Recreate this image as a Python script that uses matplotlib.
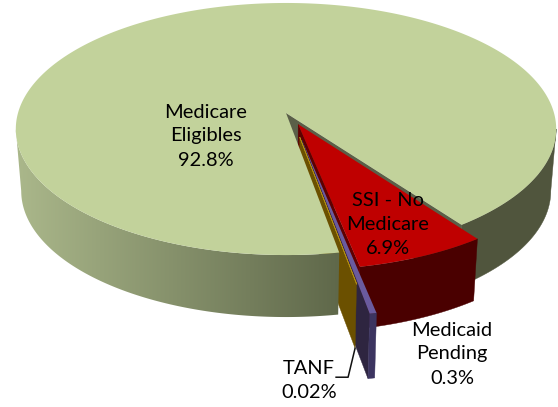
import numpy as np
import matplotlib
matplotlib.use("Agg")
import matplotlib.pyplot as plt
from matplotlib.patches import Polygon
from matplotlib.colors import LinearSegmentedColormap

# data
names = ["Medicare\nEligibles", "SSI - No\nMedicare", "Medicaid\nPending", "TANF"]
values = [92.8, 6.9, 0.3, 0.02]

# look of the fake 3d pie
cx, cy = 286, 113
rx, ry = 268, 124
persp = 0.127
shrink = 0.98
start = 169.99  # degrees clockwise from the back, green slice starts here

# slice offset on the disc (u, t) and radius
offsets = [(0, 0), (0.045, 0.09), (0.058, 0.212), (0.05, 0.19)]
radii = [1.0, 1.0, 1.148, 1.0]
depths = [62, 62, 65, 64]

# label centres in pixels
label_pos = [(206, 136), (388, 224), (452, 354), (309, 381)]

top_cols = ["#c2d29b", "#bf0000", "#6a5b9e", "#b08c10"]

# where the rim turns away from the viewer
turn = np.degrees(np.arccos(persp))


def project(theta, r, off):
    u = off[0] + r * np.sin(np.radians(theta))
    t = off[1] - r * np.cos(np.radians(theta))
    w = 1 - persp * t
    return cx + rx * u / w, cy + ry * t / w


def lower(x, y, d):
    return cx + (x - cx) * shrink, y + d


def arc(i, a0, a1):
    n = max(2, int(abs(a1 - a0)) * 2)
    th = np.linspace(a0, a1, n)
    return project(th, radii[i], offsets[i])


def top_poly(i, a0, a1):
    x, y = arc(i, a0, a1)
    ax0, ay0 = project(0.0, 0.0, offsets[i])
    return np.r_[ax0, x], np.r_[ay0, y]


def wall(i, a, col, z):
    ax0, ay0 = project(0.0, 0.0, offsets[i])
    ex, ey = project(a, radii[i], offsets[i])
    bx0, by0 = lower(ax0, ay0, depths[i])
    bx1, by1 = lower(ex, ey, depths[i])
    ax.fill([ax0, ex, bx1, bx0], [ay0, ey, by1, by0], color=col, lw=0.3, zorder=z)


def side_xy(i, a0, a1):
    x, y = arc(i, a0, a1)
    bx, by = lower(x, y, depths[i])
    return np.r_[x, bx[::-1]], np.r_[y, by[::-1]]


fig = plt.figure(figsize=(5.58, 4.07), dpi=100)
ax = fig.add_axes([0, 0, 1, 1])
ax.set_xlim(0, 558)
ax.set_ylim(407, 0)
ax.axis("off")
plt.rcParams["font.family"] = ["Lato", "DejaVu Sans"]

# angles of the slices, clockwise
total = sum(values)
spans = [v / total * 360 for v in values]
green_end = start + spans[0]
red0 = green_end
red1 = red0 + spans[1]
pur0 = red1
pur1 = pur0 + spans[2]
gold0 = pur1
gold1 = gold0 + spans[3]

# green: the cut wall and right hand rim at the back
wall(0, red0 - 360, "#5a5f48", 1)
fx, fy = side_xy(0, 180 - turn, red0 - 360)
ax.fill(fx, fy, color="#50553d", lw=0.3, zorder=2)

# red slice
wall(1, red1, "#5e0000", 3)
fx, fy = side_xy(1, red0, red1)
ax.fill(fx, fy, color="#4a0000", lw=0.3, zorder=4)
fx, fy = top_poly(1, red0, red1)
ax.fill(fx, fy, color=top_cols[1], lw=0, zorder=5)

# purple slice
wall(2, pur1, "#2e2540", 6)
fx, fy = side_xy(2, pur0, pur1)
ax.fill(fx, fy, color="#3c3460", lw=0.3, zorder=7)
fx, fy = top_poly(2, pur0, pur1)
ax.fill(fx, fy, color=top_cols[2], lw=0, zorder=8)

# gold slice
wall(3, gold1, "#6b5000", 9)
fx, fy = top_poly(3, gold0, gold1)
ax.fill(fx, fy, color=top_cols[3], lw=0.5, edgecolor=top_cols[3], zorder=10)

# green front rim, a gradient clipped to the rim shape
fx, fy = side_xy(0, start, 180 + turn)
rim = Polygon(np.c_[fx, fy], closed=True, transform=ax.transData, fc="none", ec="none")
ax.add_patch(rim)
cmap = LinearSegmentedColormap.from_list("rim", ["#acb98c", "#5f684a"])
grad = np.linspace(0, 1, 256).reshape(1, -1)
im = ax.imshow(grad, cmap=cmap, extent=(10, 340, 407, 0), aspect="auto", zorder=11)
im.set_clip_path(rim)
ax.set_xlim(0, 558)
ax.set_ylim(407, 0)

# green top goes over the rest
fx, fy = top_poly(0, start, green_end)
ax.fill(fx, fy, color=top_cols[0], lw=0, zorder=12)

# tanf leader
px, py = project(gold1, radii[3], offsets[3])
bx, by = lower(px, py, depths[3])
ax.plot([bx, bx - 7, bx - 19], [by, by + 29, by + 29], color="#111111", lw=1.1, zorder=13)

for name, v, pos in zip(names, values, label_pos):
    ax.text(pos[0], pos[1], f"{name}\n{v:g}%", ha="center", va="center", fontsize=14.4,
            linespacing=1.5, color="black", zorder=14)

fig.savefig("out.png", dpi=100)
